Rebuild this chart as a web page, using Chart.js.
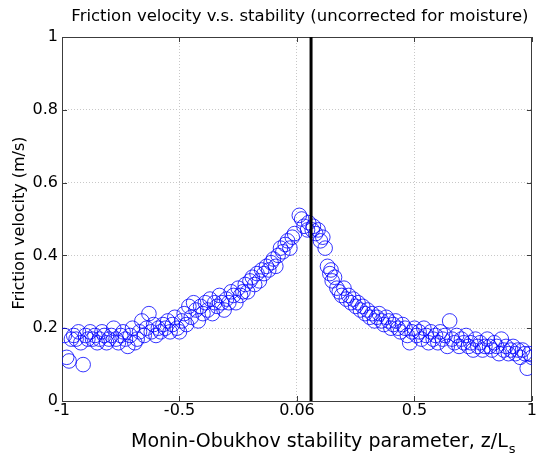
<!DOCTYPE html>
<html>
<head>
<meta charset="utf-8">
<script src="https://cdn.jsdelivr.net/npm/chart.js@4/dist/chart.umd.min.js"></script>
<style>
html,body{margin:0;padding:0;background:#fff;}
#wrap{width:540px;height:454px;}
</style>
</head>
<body>
<div id="wrap"><canvas id="c" width="540" height="454"></canvas></div>
<script>
const chartTitle = 'Friction velocity v.s. stability (uncorrected for moisture)';
const xTitleMain = 'Monin-Obukhov stability parameter, z/L';
const xTitleSub = 's';
const yTitle = 'Friction velocity (m/s)';
const xTickValues = [-1, -0.5, 0, 0.5, 1];
const xTickLabels = ['-1', '-0.5', '0.06', '0.5', '1'];
const yTickValues = [0, 0.2, 0.4, 0.6, 0.8, 1];
const yTickLabels = ['0', '0.2', '0.4', '0.6', '0.8', '1'];
const markerLineX = 0.06;

const stabilityX = [
-0.99,-0.98,-0.97,-0.96,-0.95,-0.94,-0.93,-0.92,-0.91,-0.90,-0.89,-0.88,-0.87,-0.86,-0.85,-0.84,-0.83,-0.82,-0.81,-0.80,
-0.79,-0.78,-0.77,-0.76,-0.75,-0.74,-0.73,-0.72,-0.71,-0.70,-0.69,-0.68,-0.67,-0.66,-0.65,-0.64,-0.63,-0.62,-0.61,-0.60,
-0.59,-0.58,-0.57,-0.56,-0.55,-0.54,-0.53,-0.52,-0.51,-0.50,-0.49,-0.48,-0.47,-0.46,-0.45,-0.44,-0.43,-0.42,-0.41,-0.40,
-0.39,-0.38,-0.37,-0.36,-0.35,-0.34,-0.33,-0.32,-0.31,-0.30,-0.29,-0.28,-0.27,-0.26,-0.25,-0.24,-0.23,-0.22,-0.21,-0.20,
-0.19,-0.18,-0.17,-0.16,-0.15,-0.14,-0.13,-0.12,-0.11,-0.10,-0.09,-0.08,-0.07,-0.06,-0.05,-0.04,-0.03,-0.02,-0.01,0.01,
0.02,0.03,0.045,0.05,
0.065,0.07,0.08,0.09,0.10,0.11,0.12,0.13,0.14,0.145,0.15,0.16,0.17,0.18,0.19,0.20,0.21,0.22,0.23,0.24,
0.25,0.26,0.27,0.28,0.29,0.30,0.31,0.32,0.33,0.34,0.35,0.36,0.37,0.38,0.39,0.40,0.41,0.42,0.43,0.44,
0.45,0.46,0.47,0.48,0.49,0.50,0.51,0.52,0.53,0.54,0.55,0.56,0.57,0.58,0.59,0.60,0.61,0.62,0.63,0.64,
0.65,0.66,0.67,0.68,0.69,0.70,0.71,0.72,0.73,0.74,0.75,0.76,0.77,0.78,0.79,0.80,0.81,0.82,0.83,0.84,
0.85,0.86,0.87,0.88,0.89,0.90,0.91,0.92,0.93,0.94,0.95,0.96,0.97,0.98,0.99,1.00
];
const frictionVelocity = [
0.18,0.12,0.11,0.17,0.18,0.17,0.19,0.16,0.10,0.18,0.17,0.19,0.17,0.18,0.16,0.17,0.19,0.18,0.16,0.17,
0.18,0.20,0.17,0.16,0.18,0.19,0.17,0.15,0.18,0.20,0.16,0.17,0.19,0.22,0.18,0.20,0.24,0.19,0.21,0.18,
0.20,0.19,0.21,0.20,0.22,0.19,0.21,0.23,0.20,0.19,0.22,0.24,0.21,0.26,0.23,0.27,0.25,0.22,0.26,0.24,
0.27,0.25,0.28,0.24,0.27,0.26,0.29,0.27,0.25,0.28,0.27,0.30,0.29,0.27,0.31,0.29,0.30,0.32,0.30,0.33,
0.34,0.32,0.35,0.33,0.36,0.35,0.37,0.36,0.38,0.39,0.37,0.40,0.42,0.41,0.43,0.44,0.42,0.45,0.46,0.51,
0.50,0.48,0.47,0.49,
0.47,0.48,0.46,0.47,0.44,0.45,0.42,0.37,0.35,0.36,0.33,0.34,0.31,0.30,0.29,0.31,0.28,0.29,0.27,0.28,
0.26,0.27,0.25,0.26,0.24,0.25,0.23,0.24,0.22,0.23,0.24,0.22,0.21,0.23,0.22,0.20,0.21,0.22,0.20,0.19,
0.21,0.20,0.18,0.16,0.19,0.20,0.18,0.19,0.17,0.20,0.18,0.16,0.19,0.17,0.18,0.16,0.19,0.17,0.18,0.15,
0.22,0.17,0.16,0.18,0.15,0.17,0.16,0.18,0.15,0.16,0.14,0.17,0.15,0.16,0.14,0.15,0.17,0.15,0.14,0.16,
0.15,0.13,0.17,0.14,0.15,0.13,0.14,0.15,0.13,0.14,0.12,0.14,0.13,0.09,0.13,0.12
];

const scatterPoints = stabilityX.map((x, i) => ({x: x, y: frictionVelocity[i]}));
const linePoints = [{x: markerLineX, y: 0}, {x: markerLineX, y: 1}];

const FONT = "'DejaVu Sans', sans-serif";

const boxPlugin = {
  id: 'boxPlugin',
  beforeDatasetsDraw(chart) {
    const {ctx, chartArea: a} = chart;
    ctx.save();
    ctx.strokeStyle = '#3c3c3c';
    ctx.lineWidth = 1;
    ctx.strokeRect(Math.round(a.left) + 0.5, Math.round(a.top) + 0.5,
                   Math.round(a.right - a.left) - 1, Math.round(a.bottom - a.top));
    const xs = chart.scales.x, ys = chart.scales.y;
    ctx.beginPath();
    xTickValues.forEach(v => {
      const px = Math.round(xs.getPixelForValue(v)) + 0.5;
      ctx.moveTo(px, a.bottom); ctx.lineTo(px, a.bottom - 5);
      ctx.moveTo(px, a.top); ctx.lineTo(px, a.top + 5);
    });
    yTickValues.forEach(v => {
      const py = Math.round(ys.getPixelForValue(v)) + 0.5;
      ctx.moveTo(a.left, py); ctx.lineTo(a.left + 5, py);
      ctx.moveTo(a.right, py); ctx.lineTo(a.right - 5, py);
    });
    ctx.stroke();
    ctx.restore();
  },
  afterDraw(chart) {
    const {ctx, chartArea: a} = chart;
    ctx.save();
    ctx.fillStyle = '#000';
    // chart title
    ctx.font = "16.5px " + FONT;
    ctx.textAlign = 'center';
    ctx.textBaseline = 'alphabetic';
    ctx.fillText(chartTitle, (a.left + a.right) / 2 + 3, 21);
    // x axis title with subscript
    ctx.font = "19px " + FONT;
    ctx.textAlign = 'left';
    const wMain = ctx.measureText(xTitleMain).width;
    ctx.font = "13px " + FONT;
    const wSub = ctx.measureText(xTitleSub).width;
    const startX = 131;
    ctx.font = "19px " + FONT;
    ctx.fillText(xTitleMain, startX, 447);
    ctx.font = "13px " + FONT;
    ctx.fillText(xTitleSub, startX + wMain + 1, 453);
    // y axis title
    ctx.font = "16px " + FONT;
    ctx.translate(24, (a.top + a.bottom) / 2 + 4);
    ctx.rotate(-Math.PI / 2);
    ctx.textAlign = 'center';
    ctx.fillText(yTitle, 0, 0);
    ctx.restore();
  }
};

new Chart(document.getElementById('c'), {
  type: 'scatter',
  data: {
    datasets: [
      {
        type: 'line',
        data: linePoints,
        borderColor: '#000000',
        borderWidth: 3,
        pointRadius: 0,
        fill: false,
        order: 0
      },
      {
        data: scatterPoints,
        pointStyle: 'circle',
        pointRadius: 7.3,
        pointBorderColor: '#0000ff',
        pointBackgroundColor: 'rgba(0,0,0,0)',
        pointBorderWidth: 0.8,
        order: 1
      }
    ]
  },
  plugins: [boxPlugin],
  options: {
    responsive: false,
    animation: false,
    devicePixelRatio: 1,
    layout: {padding: {left: 0, right: 3, top: 37, bottom: 0}},
    plugins: {
      legend: {display: false},
      tooltip: {enabled: false},
      title: {display: false}
    },
    scales: {
      x: {
        type: 'linear',
        min: -1, max: 1,
        afterBuildTicks(scale) { scale.ticks = xTickValues.map(v => ({value: v})); },
        afterFit(scale) { scale.height = 53; },
        ticks: {
          color: '#000',
          font: {family: FONT, size: 16},
          padding: 0,
          maxRotation: 0,
          callback: (v) => { const i = xTickValues.indexOf(v); return i >= 0 ? xTickLabels[i] : ''; }
        },
        grid: {
          color: (c) => (c.tick && (c.tick.value === -1 || c.tick.value === 1)) ? 'rgba(0,0,0,0)' : '#c8c8c8',
          lineWidth: 1,
          drawTicks: false
        },
        border: {display: false, dash: [1, 2]},
        title: {display: false}
      },
      y: {
        type: 'linear',
        min: 0, max: 1,
        afterBuildTicks(scale) { scale.ticks = yTickValues.map(v => ({value: v})); },
        afterFit(scale) { scale.width = 62; },
        ticks: {
          color: '#000',
          font: {family: FONT, size: 16},
          padding: 4,
          callback: (v) => { const i = yTickValues.indexOf(v); return i >= 0 ? yTickLabels[i] : ''; }
        },
        grid: {
          color: (c) => (c.tick && (c.tick.value === 0 || c.tick.value === 1)) ? 'rgba(0,0,0,0)' : '#c8c8c8',
          lineWidth: 1,
          drawTicks: false
        },
        border: {display: false, dash: [1, 2]},
        title: {display: false}
      }
    }
  }
});
</script>
</body>
</html>
